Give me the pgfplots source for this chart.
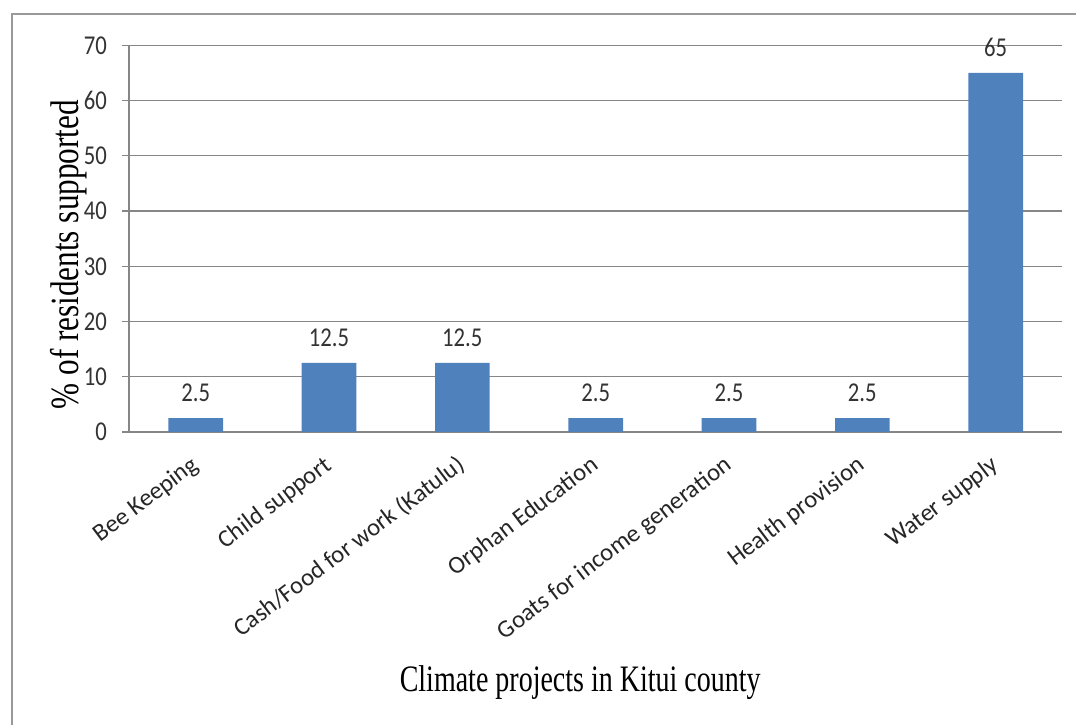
\documentclass[border=0pt]{standalone}
\usepackage{fontspec}
\setmainfont{Liberation Serif}
\newfontfamily\carlito{Carlito}
\usepackage{pgfplots}
\pgfplotsset{compat=1.18}
\definecolor{barblue}{RGB}{79,129,189}
\definecolor{gridgray}{RGB}{134,134,134}
\begin{document}
\begin{tikzpicture}
\useasboundingbox (0,0) rectangle (807pt,543.75pt);
\fill[white] (0,0) rectangle (807pt,543.75pt);
\draw[gray!80, line width=1.5pt] (9pt,-5pt) -- (9pt,533.25pt) -- (815pt,533.25pt);
\begin{axis}[
  at={(96.75pt,219.75pt)}, anchor=south west,
  scale only axis, width=700pt, height=290pt,
  xmin=-0.5, xmax=6.5, ymin=0, ymax=70,
  ytick={0,10,...,70},
  xtick={0,...,6},
  xticklabels={Bee Keeping, Child support, Cash/Food for work (Katulu), Orphan Education, Goats for income generation, Health provision, Water supply},
  axis x line*=bottom, axis y line*=left,
  x axis line style={gridgray, line width=1pt, -},
  y axis line style={gridgray, line width=1pt, -},
  ymajorgrids, grid style={gridgray, line width=1pt},
  major x tick style={draw=none},
  major y tick style={gridgray, line width=1pt},
  tick align=outside, major tick length=5pt,
  /pgf/number format/assume math mode=true,
  yticklabel style={font=\carlito\fontsize{17}{20}\selectfont, text=black!80, xshift=-8pt, yscale=1.2},
  xticklabel style={font=\carlito\fontsize{18.5}{21}\selectfont, text=black!85, xshift=3pt, yshift=-22pt, rotate=37, anchor=base east, inner sep=0pt},
  ybar, bar width=41pt,
  bar shift=0pt,
  nodes near coords,
  every node near coord/.append style={font=\carlito\fontsize{17}{20}\selectfont, text=black!80, anchor=center, yshift=19pt, yscale=1.2},
  nodes near coords={\pgfmathprintnumber[assume math mode=true]{\pgfplotspointmeta}},
  xlabel={Climate projects in Kitui county},
  ylabel={\% of residents supported},
  every axis x label/.style={at={([xshift=-11.6pt,yshift=-188pt]axis description cs:0.5,0)}, anchor=center, font=\fontsize{28}{32}\selectfont, xscale=0.75},
  every axis y label/.style={at={([xshift=-45pt,yshift=-12pt]axis description cs:0,0.5)}, anchor=center, rotate=90, xscale=0.78, font=\fontsize{30}{34}\selectfont},
  clip=false,
]
\addplot[fill=barblue, draw=none] coordinates {(0,2.5) (1,12.5) (2,12.5) (3,2.5) (4,2.5) (5,2.5) (6,65)};
\end{axis}
\end{tikzpicture}
\end{document}
